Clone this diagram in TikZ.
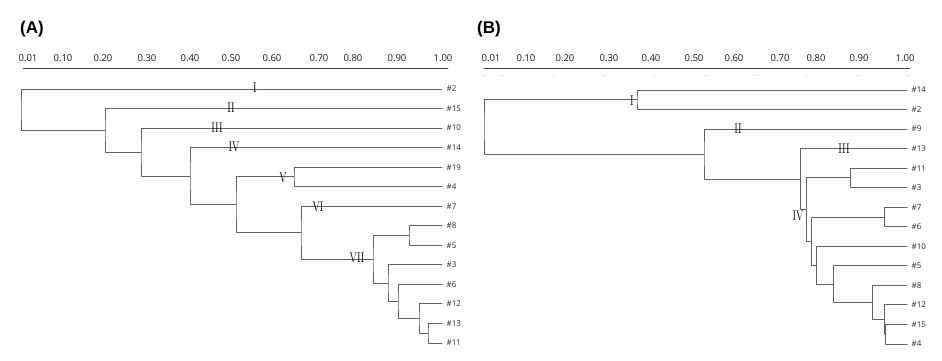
\documentclass[tikz,border=0pt]{standalone}
\usepackage{fontspec}
\usepackage{graphicx}
\newfontfamily\labfont{Noto Sans}
\newfontfamily\titlefont{Liberation Sans}
\tikzset{
  branch/.style={draw=black!62, line width=0.95pt},
  leaf/.style={anchor=west, inner xsep=4.5pt, inner ysep=0pt, text=black!80, font=\labfont\fontsize{8}{9}\selectfont},
  axlab/.style={inner sep=0pt, text=black!85, font=\labfont\fontsize{9.5}{11}\selectfont},
  clus/.style={inner sep=0pt, text=black, font=\fontsize{14}{16}\selectfont},
  paneltitle/.style={inner sep=0pt, font=\titlefont\bfseries\fontsize{17}{19}\selectfont},
}
\newcommand{\rnum}[1]{\scalebox{0.72}[1]{#1}}
\begin{document}
\begin{tikzpicture}[x=1pt, y=-1pt, line join=round, line cap=round]
\useasboundingbox (0,0) rectangle (942,361);
\def\dy{19.54}
% titles
\node[paneltitle] (titleA) at (32,29) {(A)};
\node[paneltitle] (titleB) at (489,29) {(B)};
% scale bars
\foreach \v/\x in {0.01/28,0.10/63,0.20/103,0.30/147,0.40/190,0.50/231,0.60/272,0.70/319,0.80/353,0.90/397,1.00/443}
  \node[axlab] (axA\x) at (\x,58) {\v};
\draw[black!75, line width=0.9pt] (23,68) -- (448,68);
\foreach \v/\x in {0.01/491,0.10/526,0.20/565,0.30/609,0.40/651,0.50/694,0.60/734,0.70/780,0.80/816,0.90/859,1.00/905}
  \node[axlab] (axB\x) at (\x,58) {\v};
\draw[black!75, line width=0.9pt] (484,68) -- (910,68);
\foreach \x in {484,502,553,604,655,706,757,807,858,908}
  \draw[black!9, line width=0.7pt] (\x-2,75) -- (\x+2,75);
% leaves
\foreach \n [count=\i from 0] in {2,15,10,14,19,4,7,8,5,3,6,12,13,11}
  \node[leaf] (A\n) at (442,{89+\dy*\i}) {\#\n};
\foreach \n [count=\i from 0] in {14,2,9,13,11,3,7,6,10,5,8,12,15,4}
  \node[leaf] (B\n) at (907,{90+\dy*\i}) {\#\n};
% joins (A)
\coordinate (ja13) at (428,333.25);
\coordinate (ja12) at (419,318.6);
\coordinate (ja11) at (398,301.5);
\coordinate (ja10) at (388,283.2);
\coordinate (ja9) at (409,235.55);
\coordinate (ja8) at (373,259.4);
\coordinate (ja7) at (301,232.8);
\coordinate (ja6) at (294,176.9);
\coordinate (ja5) at (236,204.85);
\coordinate (ja4) at (190,176.2);
\coordinate (ja3) at (141,152.15);
\coordinate (ja2) at (105,130.35);
\coordinate (ja1) at (21,109.7);
\draw[branch] (A13.west) -| (ja13) |- (A11.west);
\draw[branch] (A12.west) -| (ja12) |- (ja13);
\draw[branch] (A6.west) -| (ja11) |- (ja12);
\draw[branch] (A3.west) -| (ja10) |- (ja11);
\draw[branch] (A8.west) -| (ja9) |- (A5.west);
\draw[branch] (ja9) -| (ja8) |- (ja10);
\draw[branch] (A7.west) -| (ja7) |- (ja8);
\draw[branch] (A19.west) -| (ja6) |- (A4.west);
\draw[branch] (ja6) -| (ja5) |- (ja7);
\draw[branch] (A14.west) -| (ja4) |- (ja5);
\draw[branch] (A10.west) -| (ja3) |- (ja4);
\draw[branch] (A15.west) -| (ja2) |- (ja3);
\draw[branch] (A2.west) -| (ja1) |- (ja2);
% joins (B)
\coordinate (jb12) at (885,334.25);
\coordinate (jb11) at (884,319.6);
\coordinate (jb10) at (872,302.5);
\coordinate (jb9) at (833,284.2);
\coordinate (jb8) at (816,265.25);
\coordinate (jb7) at (884,217);
\coordinate (jb6) at (811,241.1);
\coordinate (jb5) at (850,177.9);
\coordinate (jb4) at (806,209.5);
\coordinate (jb3) at (800,179.05);
\coordinate (jb2) at (704,154.05);
\coordinate (jb1) at (637,99.77);
\coordinate (jb0) at (484,126.9);
\draw[branch] (B15.west) -| (jb12) |- (B4.west);
\draw[branch] (B12.west) -| (jb11) |- (jb12);
\draw[branch] (B8.west) -| (jb10) |- (jb11);
\draw[branch] (B5.west) -| (jb9) |- (jb10);
\draw[branch] (B10.west) -| (jb8) |- (jb9);
\draw[branch] (B7.west) -| (jb7) |- (B6.west);
\draw[branch] (jb7) -| (jb6) |- (jb8);
\draw[branch] (B11.west) -| (jb5) |- (B3.west);
\draw[branch] (jb5) -| (jb4) |- (jb6);
\draw[branch] (B13.west) -| (jb3) |- (jb4);
\draw[branch] (B9.west) -| (jb2) |- (jb3);
\draw[branch] (B14.west) -| (jb1) |- (B2.west);
\draw[branch] (jb1) -| (jb0) |- (jb2);
% cluster numerals
\node[clus] (cA1) at (255,88) {\rnum{I}};
\node[clus] (cA2) at (231,107.5) {\rnum{II}};
\node[clus] (cA3) at (217,128) {\rnum{III}};
\node[clus] (cA4) at (234,147) {\rnum{IV}};
\node[clus] (cA5) at (283,178) {\rnum{V}};
\node[clus] (cA6) at (318,206.5) {\rnum{VI}};
\node[clus] (cA7) at (357,258) {\rnum{VII}};
\node[clus] (cB1) at (632,101) {\rnum{I}};
\node[clus] (cB2) at (738,129) {\rnum{II}};
\node[clus] (cB3) at (844,149) {\rnum{III}};
\node[clus] (cB4) at (798,216) {\rnum{IV}};
\end{tikzpicture}
\end{document}
